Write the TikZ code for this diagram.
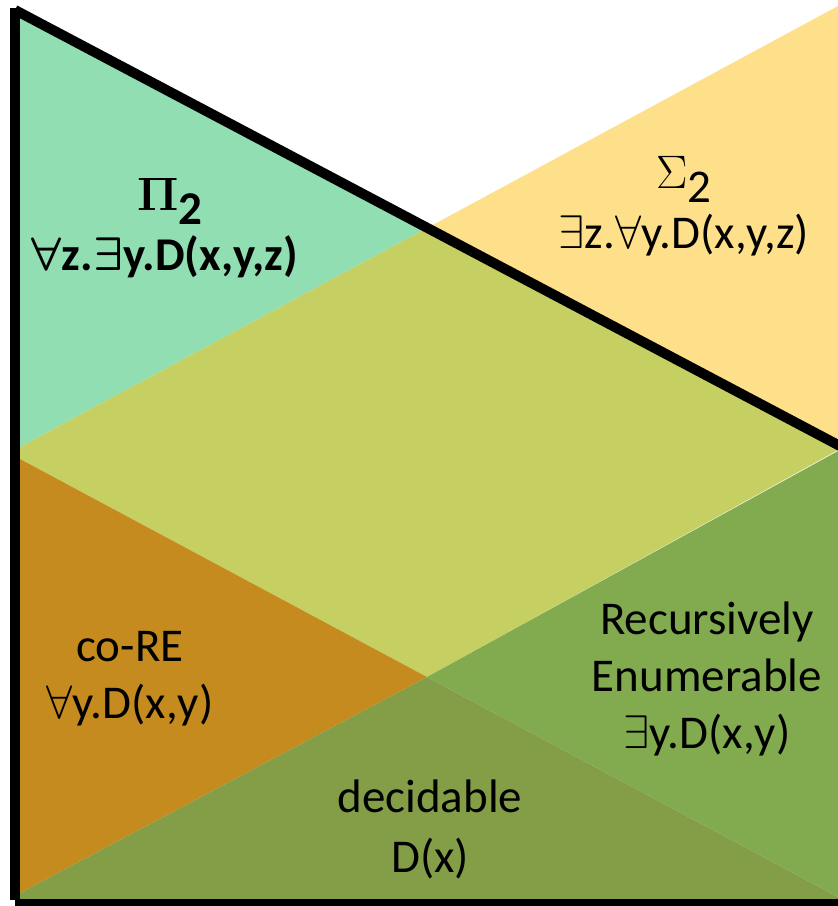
\documentclass[tikz,border=0pt]{standalone}
\usepackage{fix-cm}
\usepackage{fontspec}
\usepackage{bm}
\setmainfont{Carlito}
\definecolor{cteal}{HTML}{92DEB3}
\definecolor{cyellow}{HTML}{FFE08A}
\definecolor{colive}{HTML}{C6CF62}
\definecolor{cbrown}{HTML}{C58B1E}
\definecolor{cregreen}{HTML}{82AB50}
\definecolor{cdec}{HTML}{839E46}
\tikzset{
  lbl/.style={anchor=base, inner sep=0pt, font=\fontsize{47}{58}\selectfont},
  frame/.style={line width=10pt, black, line cap=butt}
}
\begin{document}
\begin{tikzpicture}[x=1pt,y=-1pt]
\useasboundingbox (0,0) rectangle (838,906);
% regions
\fill[cteal] (20,12) -- (427,228) -- (20,447) -- cycle;
\fill[cyellow] (427,228) -- (838,6) -- (838,447) -- cycle;
\fill[colive] (20,447) -- (427,228) -- (838,450) -- (427,677) -- (20,459) -- cycle;
\fill[cbrown] (20,459) -- (427,677) -- (20,893) -- cycle;
\fill[cregreen] (838,451) -- (427,677) -- (838,897) -- cycle;
\fill[cdec] (20,893) -- (427,677) -- (838,897) -- (838,900) -- (20,900) -- cycle;
% frame
\coordinate (tl) at (15,8);
\coordinate (bl) at (15,900);
\coordinate (b0) at (15,904);
\coordinate (br) at (838,904);
\coordinate (dtop) at (15,10);
\coordinate (dend) at (840,446);
\draw[frame] (tl) -- (bl);
\draw[frame] (b0) -- (br);
\draw[frame] (dtop) -- (dend);
% labels
\node[lbl] (pi1) at (170,210) {$\bm{\Pi}_{\textbf{2}}$};
\node[lbl] (pi2) at (165,270) {\bfseries $\bm{\forall}$z.$\bm{\exists}$y.D(x,y,z)};
\node[lbl] (si1) at (684,188) {$\Sigma_{\textrm{2}}$};
\node[lbl] (si2) at (684,248) {$\exists$z.$\forall$y.D(x,y,z)};
\node[lbl] (co1) at (130,661) {co-RE};
\node[lbl] (co2) at (130,718) {$\forall$y.D(x,y)};
\node[lbl] (re1) at (707,634) {Recursively};
\node[lbl] (re2) at (707,691) {Enumerable};
\node[lbl] (re3) at (707,748) {$\exists$y.D(x,y)};
\node[lbl] (de1) at (430,812) {decidable};
\node[lbl] (de2) at (430,872) {D(x)};
\end{tikzpicture}
\end{document}
